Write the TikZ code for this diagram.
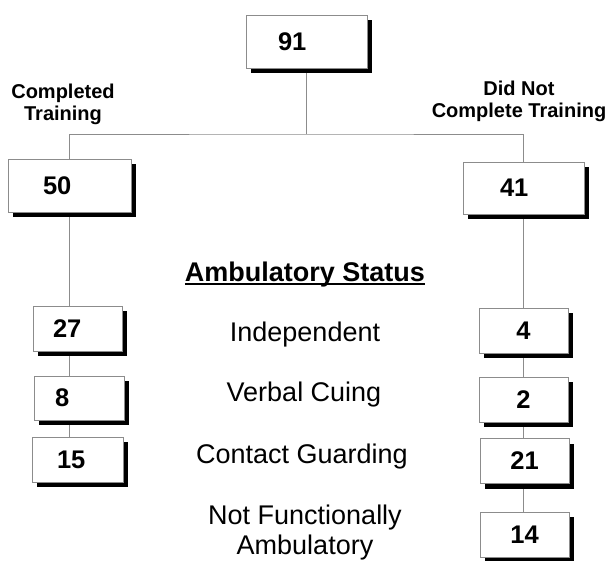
\documentclass[tikz,border=0pt]{standalone}
\usepackage{fontspec}
\setmainfont{Liberation Sans}
\usetikzlibrary{shadows,backgrounds}

\tikzset{
  numbox/.style={draw=black!45, line width=0.8pt, fill=white, inner sep=0pt,
    minimum width=89pt, minimum height=45pt,
    font=\fontsize{25.5}{30}\selectfont\bfseries,
    drop shadow={shadow xshift=5pt, shadow yshift=-5pt, fill=black, opacity=1}},
  lnum/.style 2 args={inner xsep=#1, text width=#2, align=left},
  link/.style={draw=black!45, line width=0.8pt},
  status/.style={font=\fontsize{27}{31}\selectfont, anchor=base, inner sep=0pt},
  group/.style={font=\fontsize{20}{22}\selectfont\bfseries, align=center}
}

\begin{document}
\begin{tikzpicture}[x=1pt, y=-1pt]
  \useasboundingbox (0,0) rectangle (608,560);
  %%%%% START %%%%%
  \node[numbox, minimum width=121pt, minimum height=53pt, lnum={32pt}{57pt}] (b91) at (306.5,41.5) {91};

  \node[group] (done) at (63,104.5) {Completed\\Training};
  \node[group] (notdone) at (519,101) {Did Not\\Complete Training};

  \node[numbox, minimum width=123pt, minimum height=53pt, lnum={35pt}{53pt}] (b50) at (69.5,185.5) {50};
  \node[numbox, minimum width=121pt, minimum height=52pt, lnum={37pt}{47pt}] (b41) at (523.5,188) {41};

  % left column
  \node[numbox, lnum={20pt}{49pt}] (b27) at (77.5,328.5) {27};
  \node[numbox, minimum width=90pt, minimum height=44pt, lnum={21pt}{48pt}] (b8) at (79,398) {8};
  \node[numbox, minimum width=91pt, lnum={25pt}{41pt}] (b15) at (77.5,459.5) {15};

  % right column
  \node[numbox] (b4) at (523.5,330.5) {4};
  \node[numbox] (b2) at (523.5,399.5) {2};
  \node[numbox] (b21) at (524.5,461) {21};
  \node[numbox] (b14) at (524.5,534.5) {14};

  % middle texts
  \node[status, font=\fontsize{27}{31}\selectfont\bfseries] (amb) at (305,281) {Ambulatory Status};
  \draw[line width=2pt] ([yshift=-3pt]amb.base west) -- ([yshift=-3pt]amb.base east);
  \node[status] (indep) at (305,341) {Independent};
  \node[status] (verbal) at (304,401) {Verbal Cuing};
  \node[status] (contact) at (302,463) {Contact Guarding};
  \node[font=\fontsize{27}{30}\selectfont, align=center] (notfunc) at (305,533) {Not Functionally\\Ambulatory};

  \begin{scope}[on background layer]
    \coordinate (fork) at (306.5,134);
    \draw[link] (b91.south) -- (fork);
    \draw[link] (b50.north) |- (fork) -| (b41.north);
    \draw[link] (b50.south) -- (b50.south |- b27.north);
    \draw[link] (b27.south -| b50.south) -- (b8.north -| b50.south);
    \draw[link] (b8.south -| b50.south) -- (b15.north -| b50.south);
    \draw[link] (b41.south) -- (b41.south |- b4.north);
    \draw[link] (b4.south -| b41.south) -- (b2.north -| b41.south);
    \draw[link] (b2.south -| b41.south) -- (b21.north -| b41.south);
    \draw[link] (b21.south -| b41.south) -- (b14.north -| b41.south);
  \end{scope}
  %%%%% END %%%%%
\end{tikzpicture}
\end{document}
